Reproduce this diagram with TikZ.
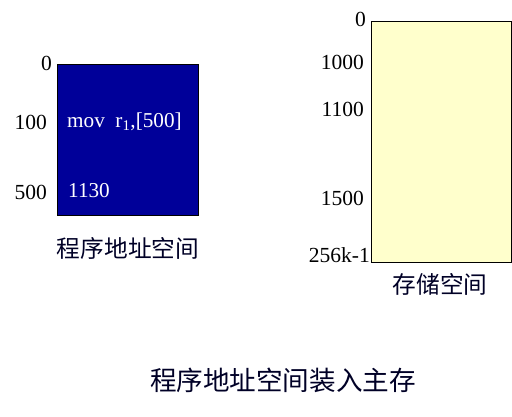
\documentclass[tikz,border=0pt]{standalone}
\usepackage{fontspec}
\setmainfont{Liberation Serif}
\newfontfamily\cjk{Noto Sans CJK SC}
\definecolor{progblue}{RGB}{0,0,153}
\definecolor{memyellow}{RGB}{255,255,204}
\tikzset{
  num/.style={font=\fontsize{21.5}{21.5}\selectfont, inner sep=0pt},
  inner/.style={font=\fontsize{21.2}{21.2}\selectfont, text=white, inner sep=0pt, anchor=west},
  captext/.style={font=\cjk\fontsize{23.7}{23.7}\selectfont, text=black!85!blue, inner sep=0pt},
}
\begin{document}
\begin{tikzpicture}[x=1pt,y=-1pt]
\useasboundingbox (0,0) rectangle (512,416);
% program address space
\node[draw=black, fill=progblue, minimum width=141pt, minimum height=151pt, anchor=north west, inner sep=0pt] (prog) at (57,64) {};
\node[num, anchor=east] (p0) at (52,63) {0};
\node[num, anchor=east] (p100) at (47,122) {100};
\node[num, anchor=east] (p500) at (47,192) {500};
\node[inner] (mov) at (67,122) {mov\ \ r\textsubscript{1},[500]};
\node[inner] (n1130) at (68,191) {1130};
\node[captext] (progcap) at (128,248) {程序地址空间};
% memory space
\node[draw=black, fill=memyellow, minimum width=140pt, minimum height=241pt, anchor=north west, inner sep=0pt] (mem) at (371,21) {};
\node[num, anchor=east] (m0) at (366,19) {0};
\node[num, anchor=east] (m1000) at (364,62) {1000};
\node[num, anchor=east] (m1100) at (364,109) {1100};
\node[num, anchor=east] (m1500) at (364,198) {1500};
\node[num, anchor=east] (m256) at (370,255) {256k-1};
\node[captext] (memcap) at (440,284) {存储空间};
% title
\node[captext, font=\cjk\fontsize{26.6}{26.6}\selectfont] (title) at (283,380) {程序地址空间装入主存};
\end{tikzpicture}
\end{document}
